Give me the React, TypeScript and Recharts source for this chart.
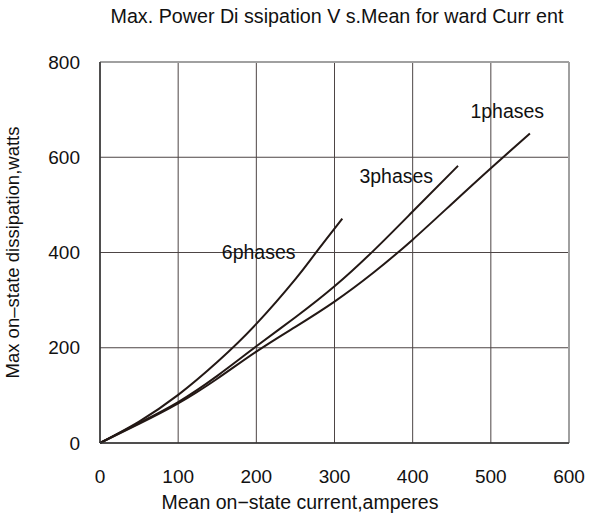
import React from 'react';
import { LineChart, Line, XAxis, YAxis, CartesianGrid, ReferenceLine, ReferenceDot } from 'recharts';

const xTicks = [0, 100, 200, 300, 400, 500, 600];
const yTicks = [0, 200, 400, 600, 800];

const phase6 = [
  { x: 0, y: 0 },
  { x: 50, y: 45 },
  { x: 100, y: 101 },
  { x: 150, y: 170 },
  { x: 200, y: 250 },
  { x: 250, y: 344 },
  { x: 275, y: 397 },
  { x: 310, y: 471 },
];

const phase3 = [
  { x: 0, y: 0 },
  { x: 50, y: 42 },
  { x: 100, y: 86 },
  { x: 150, y: 141 },
  { x: 200, y: 203 },
  { x: 250, y: 264 },
  { x: 300, y: 329 },
  { x: 350, y: 404 },
  { x: 400, y: 486 },
  { x: 458, y: 582 },
];

const phase1 = [
  { x: 0, y: 0 },
  { x: 50, y: 40 },
  { x: 100, y: 83 },
  { x: 150, y: 135 },
  { x: 200, y: 192 },
  { x: 250, y: 244 },
  { x: 300, y: 297 },
  { x: 350, y: 358 },
  { x: 400, y: 427 },
  { x: 450, y: 502 },
  { x: 500, y: 577 },
  { x: 550, y: 650 },
];

const seriesLabels = [
  { name: '6phases', x: 203, y: 400 },
  { name: '3phases', x: 379, y: 560 },
  { name: '1phases', x: 521, y: 697 },
];

const font = '"Liberation Sans", Arial, sans-serif';
const ink = '#231815';

export default function App() {
  return (
    <div style={{ position: 'absolute', left: 0, top: 0, width: 590, height: 521, background: '#fff', fontFamily: font, color: '#111' }}>
      <div style={{ position: 'absolute', left: 0, top: 5, width: 590, paddingLeft: 84, boxSizing: 'border-box', textAlign: 'center', fontSize: 19.7, whiteSpace: 'nowrap' }}>
        Max. Power Di ssipation V s.Mean for ward Curr ent
      </div>
      <LineChart width={590} height={521} margin={{ top: 62, right: 21, bottom: 38, left: 0 }}>
        <CartesianGrid stroke="#4d4545" strokeWidth={1} />
        <XAxis
          type="number"
          dataKey="x"
          domain={[0, 600]}
          ticks={xTicks}
          interval={0}
          tickLine={false}
          axisLine={{ stroke: '#333', strokeWidth: 1.5 }}
          tick={{ fill: '#111', fontSize: 19, fontFamily: font }}
          tickMargin={21}
          height={40}
        />
        <YAxis
          type="number"
          dataKey="y"
          domain={[0, 800]}
          ticks={yTicks}
          interval={0}
          tickLine={false}
          axisLine={{ stroke: '#333', strokeWidth: 1.5 }}
          tick={{ fill: '#111', fontSize: 19, fontFamily: font }}
          tickMargin={14}
          width={100}
          label={{ value: 'Max on–state dissipation,watts', angle: -90, position: 'insideLeft', offset: 12, style: { textAnchor: 'middle' }, fill: '#111', fontSize: 18.5, fontFamily: font }}
        />
        <ReferenceLine y={800} stroke="#a0a0a0" strokeWidth={2} />
        <ReferenceLine x={600} stroke="#a0a0a0" strokeWidth={2} />
        <Line data={phase6} dataKey="y" type="natural" stroke={ink} strokeWidth={2} dot={false} isAnimationActive={false} />
        <Line data={phase3} dataKey="y" type="natural" stroke={ink} strokeWidth={2} dot={false} isAnimationActive={false} />
        <Line data={phase1} dataKey="y" type="natural" stroke={ink} strokeWidth={2} dot={false} isAnimationActive={false} />
        {seriesLabels.map((s) => (
          <ReferenceDot
            key={s.name}
            x={s.x}
            y={s.y}
            r={0}
            stroke="none"
            fill="none"
            label={{ value: s.name, position: 'center', fill: '#111', fontSize: 19.5, fontFamily: font }}
          />
        ))}
      </LineChart>
      <div style={{ position: 'absolute', left: 100, top: 491, width: 400, textAlign: 'center', fontSize: 19.5, whiteSpace: 'nowrap' }}>
        Mean on−state current,amperes
      </div>
    </div>
  );
}
